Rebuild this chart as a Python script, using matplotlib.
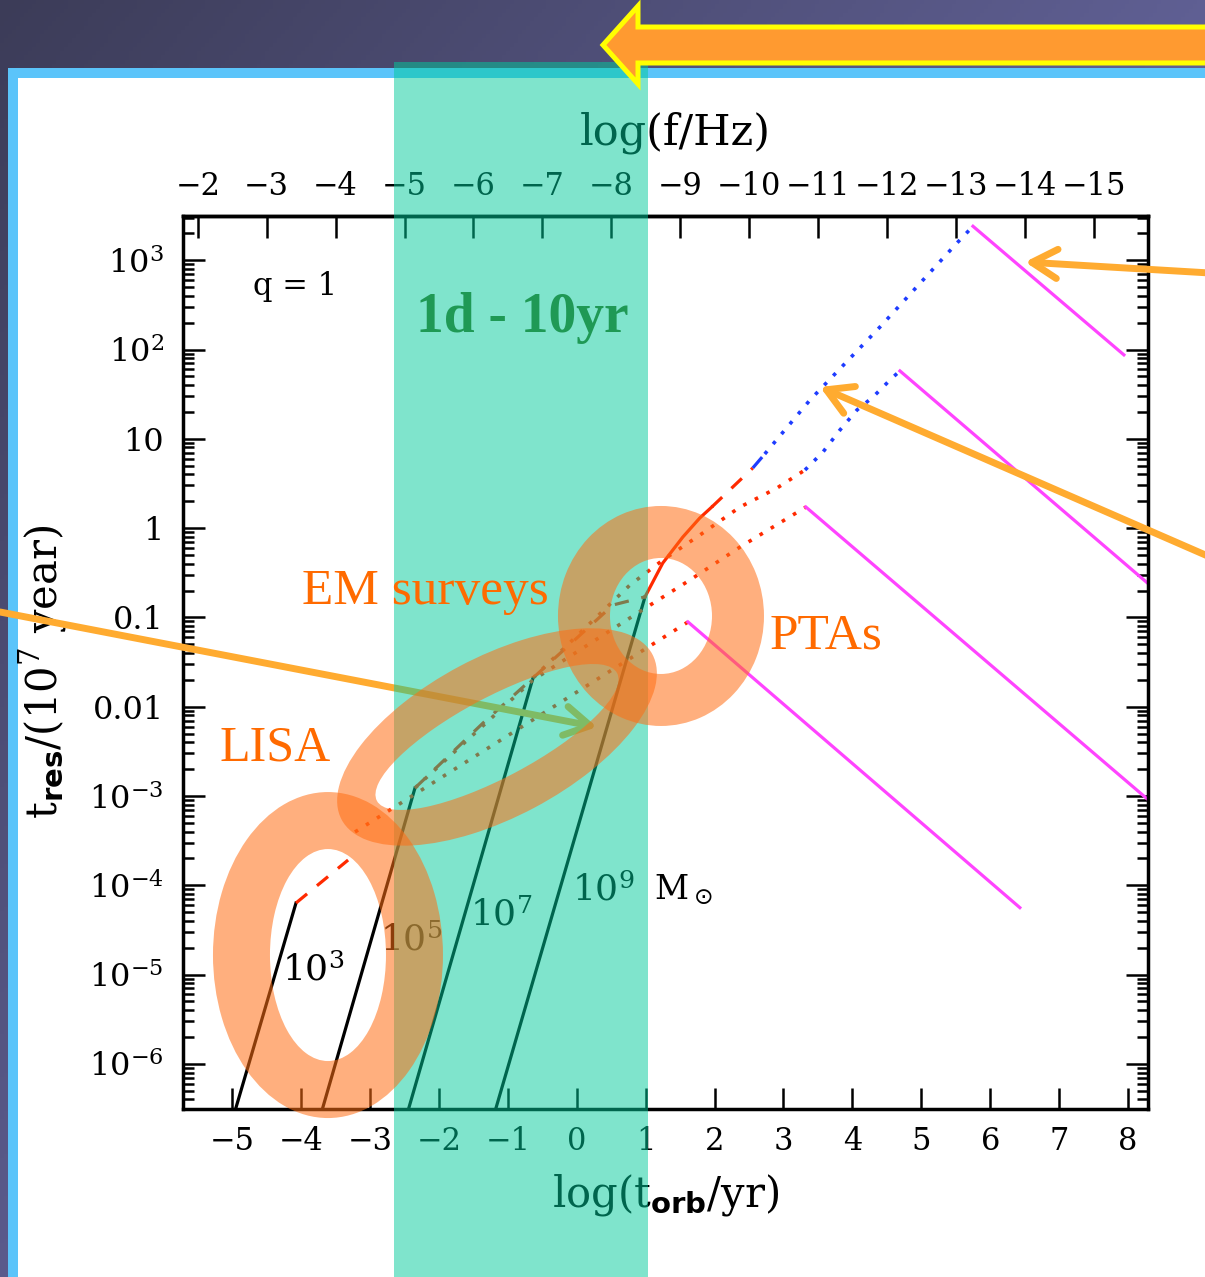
import numpy as np
import matplotlib
matplotlib.use('Agg')
import matplotlib.pyplot as plt
import matplotlib.transforms as mtransforms
from matplotlib.patches import Rectangle, Polygon, Annulus
from matplotlib.ticker import FixedLocator

plt.rcParams['font.family'] = ['DejaVu Serif']

# values: x = log(t_orb/yr), y = log(t_res/1e7 yr)
mass_names = [r'$\mathregular{10^{3}}$', r'$\mathregular{10^{5}}$',
              r'$\mathregular{10^{7}}$', r'$\mathregular{10^{9}}$']
mass_label_x = [-4.28, -2.86, -1.55, -0.07]
mass_label_y = [-4.95, -4.61, -4.33, -4.05]

# GW driven part (black solid)
gw_x = [[-4.95, -4.075], [-3.69, -2.348], [-2.44, -0.636], [-1.175, 0.99]]
gw_y = [[-6.5, -4.198], [-6.5, -2.910], [-6.5, -1.679], [-6.5, -0.77]]

# gas driven (dashed)
gas_lo_x = [-4.075, -3.319]
gas_lo_y = [-4.198, -3.717]
gas_x = [-2.348, -1.361, -0.636, 0.526, 0.99]
gas_y = [-2.910, -2.183, -1.679, -0.861, -0.77]

# 1e9 track after the GW line
m9_solid_x = [0.99, 1.248, 1.539, 1.785, 1.959]
m9_solid_y = [-0.77, -0.391, -0.100, 0.113, 0.236]
m9_dash_x = [1.959, 2.554]
m9_dash_y = [0.236, 0.673]
m9_bdash_x = [2.554, 2.728]
m9_bdash_y = [0.673, 0.830]
m9_bdot_x = [2.728, 3.384, 4.400, 5.518, 5.75]
m9_bdot_y = [0.830, 1.434, 2.252, 3.193, 3.38]

# stellar driven (dotted)
star3_x = [-3.219, 1.614]
star3_y = [-3.403, -1.051]
star5_x = [-2.348, -0.636, 1.019, 1.643, 2.369, 3.325]
star5_y = [-2.910, -1.701, -0.884, -0.581, -0.212, 0.236]
star7_x = [-0.636, 0.772, 1.251, 1.788, 2.369, 2.906, 3.312]
star7_y = [-1.679, -0.637, -0.357, -0.077, 0.236, 0.449, 0.651]
star7b_x = [3.312, 3.573, 3.820, 4.067, 4.299, 4.575, 4.69]
star7b_y = [0.651, 0.852, 1.099, 1.323, 1.468, 1.681, 1.76]

# magenta decays
decay_x = [[5.75, 7.94], [4.69, 8.29], [3.325, 8.29], [1.614, 6.43]]
decay_y = [[3.38, 1.94], [1.76, -0.62], [0.236, -3.04], [-1.051, -4.25]]

ytick_pos = [-6, -5, -4, -3, -2, -1, 0, 1, 2, 3]
ytick_labels = [r'$\mathregular{10^{-6}}$', r'$\mathregular{10^{-5}}$',
                r'$\mathregular{10^{-4}}$', r'$\mathregular{10^{-3}}$',
                '0.01', '0.1', '1', '10',
                r'$\mathregular{10^{2}}$', r'$\mathregular{10^{3}}$']
xtick_pos = list(range(-5, 9))
freq_ticks = list(range(-2, -16, -1))

band = (-2.65, 1.03)   # 1 day - 10 yr
ring_names = ['LISA', 'EM surveys', 'PTAs']
ring_x = [-3.611, -1.158, 1.222]
ring_y = [-4.781, -2.339, -0.984]

W, H = 1205, 1277
fig = plt.figure(figsize=(W / 100, H / 100), dpi=100)

# slide background
bg = fig.add_axes([0, 0, 1, 1], zorder=0)
bg.set_xlim(0, W)
bg.set_ylim(H, 0)
bg.axis('off')
gx, gy = np.meshgrid(np.linspace(0, 1, 300), np.linspace(0, 1, 300))
t = np.clip(0.8 * gx + 0.7 * gy, 0, 1)[..., None]
c0 = np.array([60, 60, 88]) / 255
c1 = np.array([104, 104, 162]) / 255
bg.imshow(c0 + (c1 - c0) * t, extent=[0, W, H, 0], aspect='auto')
bg.add_patch(Rectangle((13, 73), W, H, fc='white', ec='#5bc4fa', lw=7.2))

# the plot
ax = fig.add_axes([183 / W, 1 - 1109 / H, 965 / W, 893 / H], zorder=1)
ax.set_facecolor('none')
ax.set_xlim(-5.715, 8.29)
ax.set_ylim(-6.505, 3.495)

red = '#ff2a00'
blue = '#1e3cff'
mag = '#ff44ff'
dots = (0, (1, 2.6))
dashes = (0, (4.5, 4))
for xs, ys in zip(gw_x, gw_y):
    ax.plot(xs, ys, color='black', lw=2.3)
ax.plot(gas_lo_x, gas_lo_y, color=red, lw=2.3, ls=dashes)
ax.plot(gas_x, gas_y, color=red, lw=2.3, ls=dashes)
ax.plot(m9_solid_x, m9_solid_y, color=red, lw=2.3)
ax.plot(m9_dash_x, m9_dash_y, color=red, lw=2.3, ls=dashes)
ax.plot(m9_bdash_x, m9_bdash_y, color=blue, lw=2.3, ls=dashes)
ax.plot(m9_bdot_x, m9_bdot_y, color=blue, lw=2.6, ls=dots)
ax.plot(star3_x, star3_y, color=red, lw=2.6, ls=dots)
ax.plot(star5_x, star5_y, color=red, lw=2.6, ls=dots)
ax.plot(star7_x, star7_y, color=red, lw=2.6, ls=dots)
ax.plot(star7b_x, star7b_y, color=blue, lw=2.6, ls=dots)
for xs, ys in zip(decay_x, decay_y):
    ax.plot(xs, ys, color=mag, lw=2.3)

for name, x, y in zip(mass_names, mass_label_x, mass_label_y):
    ax.text(x, y, name, fontsize=26, ha='left', va='center')
ax.text(1.12, -4.05, r'M$_\odot$', fontsize=24, ha='left', va='center')
ax.text(-4.09, 2.70, 'q = 1', fontsize=22, ha='center', va='center')

for sp in ax.spines.values():
    sp.set_linewidth(2.5)
ax.set_xticks(xtick_pos)
ax.set_xticklabels([str(v).replace('-', '\u2212') for v in xtick_pos])
ax.set_yticks(ytick_pos)
ax.set_yticklabels(ytick_labels)
ax.yaxis.set_minor_locator(FixedLocator(
    [k + np.log10(m) for k in range(-7, 4) for m in range(2, 10)]))
ax.tick_params(axis='x', which='both', top=False, bottom=True, direction='in',
               length=15, width=1.8, labelsize=22, pad=12)
ax.tick_params(axis='y', which='both', left=True, right=True, direction='in',
               width=1.8, labelsize=23, pad=14)
ax.tick_params(axis='y', which='major', length=16)
ax.tick_params(axis='y', which='minor', length=8)

top = ax.secondary_xaxis('top', functions=(lambda x: -x - 7.5, lambda f: -f - 7.5))
top.set_xticks(freq_ticks)
top.set_xticklabels([str(v).replace('-', '\u2212') for v in freq_ticks])
top.tick_params(direction='in', length=16, width=1.8, labelsize=22, pad=10)
top.spines['top'].set_linewidth(2.5)
ax.text(0.51, 1.093, 'log(f/Hz)', fontsize=31, ha='center', va='center',
        transform=ax.transAxes)

ax.set_xlabel(r'log(t$_{\mathbf{orb}}$/yr)', fontsize=30)
ax.xaxis.set_label_coords(0.5, -0.07)
ax.set_ylabel(r't$_{\mathbf{res}}$/(10$^{\mathregular{7}}$ year)', fontsize=30)
ax.yaxis.set_label_coords(-0.118, 0.49)

# overlays: arrows, band, rings, slide arrow
fg = fig.add_axes([0, 0, 1, 1], zorder=2)
fg.set_xlim(0, W)
fg.set_ylim(H, 0)
fg.axis('off')
fg.set_facecolor('none')

arrow_kw = dict(arrowstyle='->,head_length=1.3,head_width=0.75', color='#ffab30',
                lw=5, shrinkA=0, shrinkB=0, mutation_scale=14)
for tail, tip in [((0, 612), (597, 727)), ((1210, 273), (1025, 262)),
                  ((1210, 557), (820, 387))]:
    fg.annotate('', xy=tip, xytext=tail, arrowprops=arrow_kw, zorder=1)

blend = mtransforms.blended_transform_factory(ax.transData, fg.transData)
fg.add_patch(Rectangle((band[0], 62), band[1] - band[0], H, transform=blend,
                       fc='#00cb9b', alpha=0.5, lw=0, zorder=2))

ring_shapes = [((115, 163), 57, 0), ((176, 80), 40, 28), ((103, 110), 52, 0)]
for (r, w, ang), cx, cy in zip(ring_shapes, ring_x, ring_y):
    tr = mtransforms.Affine2D() + mtransforms.ScaledTranslation(cx, cy, ax.transData)
    fg.add_patch(Annulus((0, 0), r, w, angle=ang, transform=tr,
                         fc='#ff6e14', alpha=0.55, lw=0, zorder=3))

fg.add_patch(Polygon([(603, 45), (638, 6), (638, 27), (1215, 27), (1215, 63),
                      (638, 63), (638, 84)], closed=True, fc='#ff9a30',
                     ec='#ffff00', lw=3.6, joinstyle='miter', zorder=4))

orange = '#ff6a00'
for name, (px, py), size in zip(ring_names, [(275, 748), (425, 592), (826, 636)],
                                [36, 37, 37]):
    fg.text(px, py, name, color=orange, fontsize=size, family='Liberation Serif',
            ha='center', va='center', zorder=5)
fg.text(522, 318, '1d - 10yr', color='#1f9955', fontsize=40, fontweight='bold',
        family='Liberation Serif', ha='center', va='center', zorder=5)

fig.savefig('out.png', dpi=100)
